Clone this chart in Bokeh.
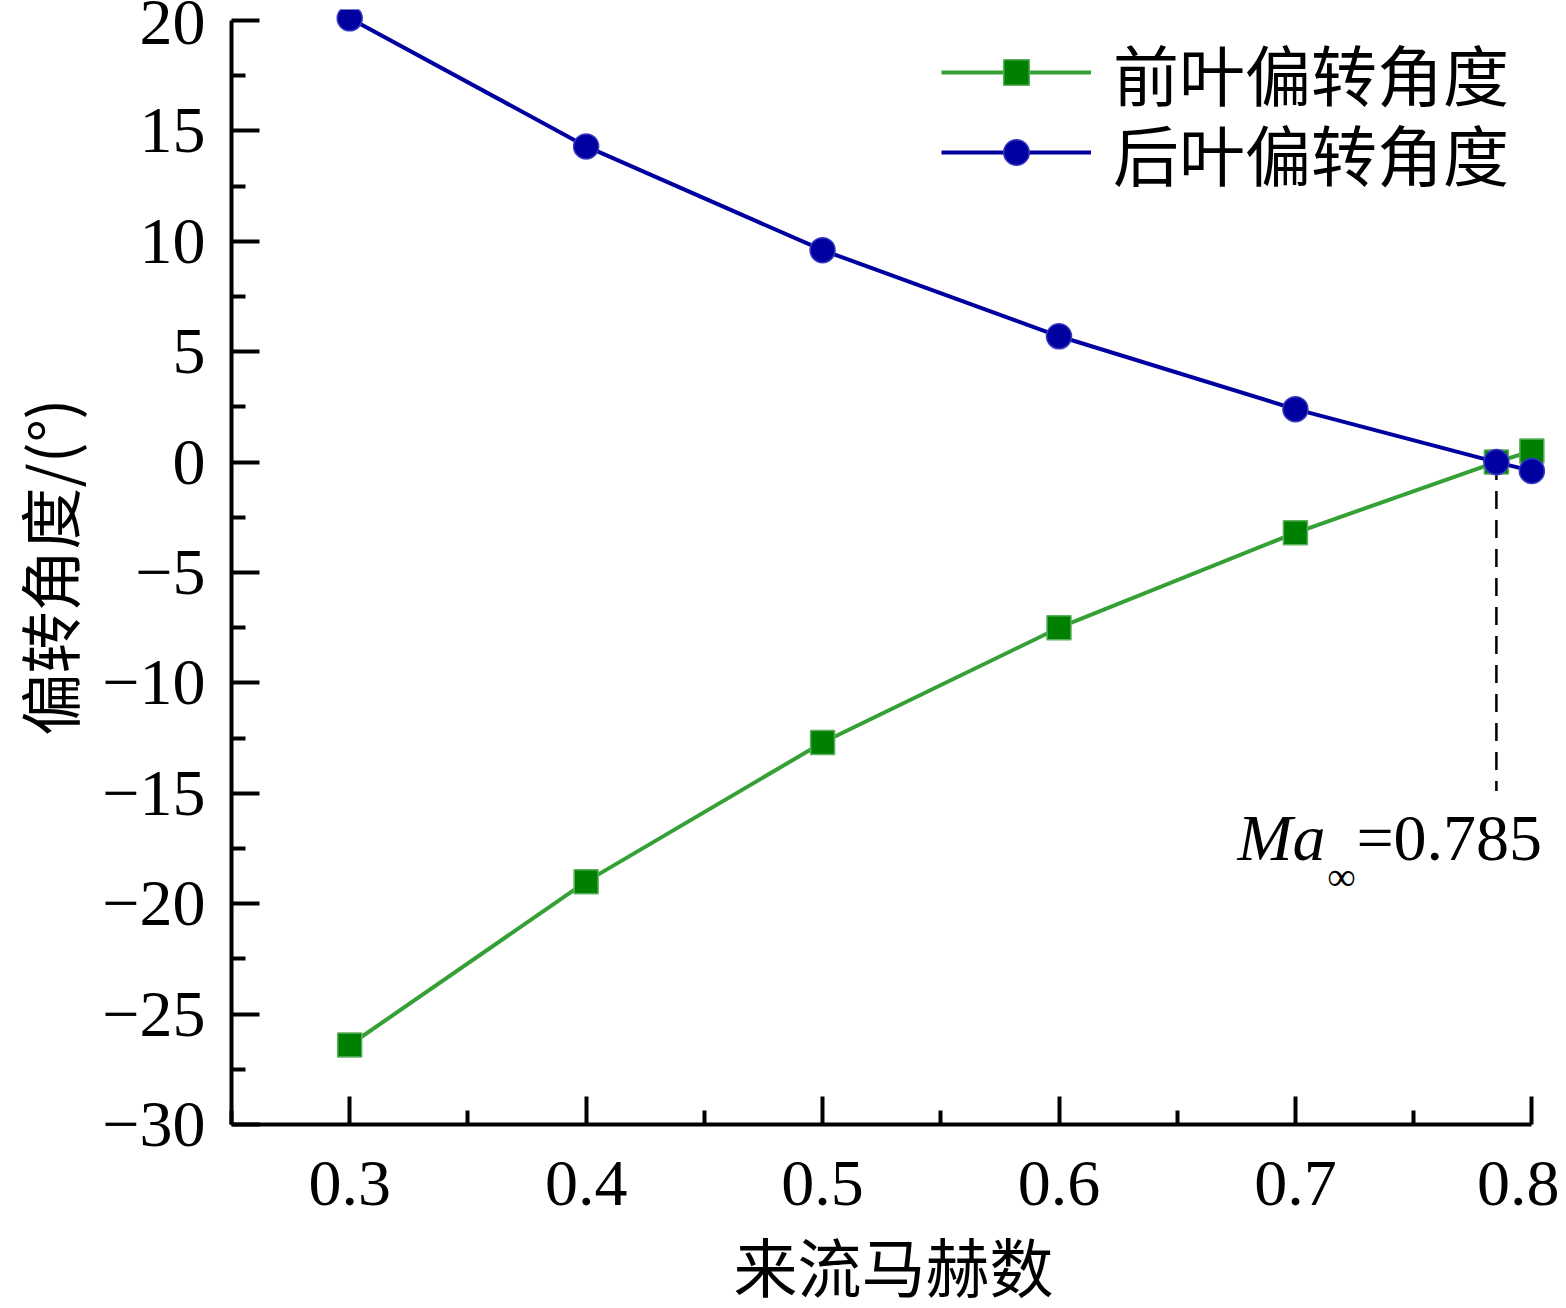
from bokeh.plotting import figure
from bokeh.models import (FixedTicker, CustomJSTickFormatter, Legend, LegendItem,
                          Label, Range1d)
from bokeh.embed import file_html
from bokeh.resources import INLINE

# ---------------- data ----------------
MACH = [0.3, 0.4, 0.5, 0.6, 0.7, 0.785, 0.8]
FRONT_DEFLECTION = [-26.4, -19.0, -12.7, -7.5, -3.2, 0.0, 0.5]
REAR_DEFLECTION = [20.1, 14.3, 9.6, 5.7, 2.4, 0.0, -0.4]
MA_CRIT = 0.785
DASH_Y = [0.0, -14.9]
SERIES_NAMES = ["前叶偏转角度", "后叶偏转角度"]
X_LABEL = "来流马赫数"
Y_LABEL = "偏转角度/(°)"
X_TICKS = [0.3, 0.4, 0.5, 0.6, 0.7, 0.8]
X_MINOR = [0.25, 0.35, 0.45, 0.55, 0.65, 0.75]
Y_TICKS = [-30, -25, -20, -15, -10, -5, 0, 5, 10, 15, 20]
Y_MINOR = [-27.5, -22.5, -17.5, -12.5, -7.5, -2.5, 2.5, 7.5, 12.5, 17.5]
ANNOT_MAIN = "=0.785"

GREEN_LINE = "#35a035"
GREEN_MARK = "#008000"
BLUE = "#0000a0"
SERIF = "Liberation Serif"
CJK = "Noto Sans CJK SC"

p = figure(frame_width=1324, frame_height=1115,
           min_border_left=222, min_border_right=4, min_border_top=9, min_border_bottom=180,
           x_range=Range1d(0.25, 0.81), y_range=Range1d(-30, 20.5),
           output_backend="svg", toolbar_location=None)
p.outline_line_color = None
p.xgrid.visible = False
p.ygrid.visible = False
p.background_fill_color = "white"
p.border_fill_color = "white"

# dashed critical-Mach line
p.line([MA_CRIT, MA_CRIT], DASH_Y, line_color="black", line_width=2.5, line_dash="18 11")

gl = p.line(MACH, FRONT_DEFLECTION, line_color=GREEN_LINE, line_width=4)
gm = p.scatter(MACH, FRONT_DEFLECTION, marker="square", size=24,
               fill_color=GREEN_MARK, line_color="#5cb05c", line_width=1.5)
bl = p.line(MACH, REAR_DEFLECTION, line_color=BLUE, line_width=4)
bm = p.scatter(MACH, REAR_DEFLECTION, marker="circle", size=25,
               fill_color=BLUE, line_color="#3a3ac0", line_width=1.5)

# axes
for ax in (p.xaxis[0], p.yaxis[0]):
    ax.axis_line_width = 4
    ax.axis_line_color = "black"
    ax.major_tick_line_width = 4
    ax.minor_tick_line_width = 4
    ax.major_tick_in = 28
    ax.major_tick_out = 0
    ax.minor_tick_in = 14
    ax.minor_tick_out = 0
    ax.major_label_text_font = SERIF
    ax.major_label_text_font_size = "66px"
    ax.major_label_text_color = "black"
    ax.axis_label_text_font = CJK
    ax.axis_label_text_font_style = "normal"
    ax.axis_label_text_color = "black"

p.xaxis[0].ticker = FixedTicker(ticks=X_TICKS, minor_ticks=X_MINOR)
p.yaxis[0].ticker = FixedTicker(ticks=Y_TICKS, minor_ticks=Y_MINOR)
p.xaxis[0].bounds = (0.25, 0.8)
p.yaxis[0].bounds = (-30, 20)
p.xaxis[0].formatter = CustomJSTickFormatter(code="return tick.toFixed(1);")
p.yaxis[0].formatter = CustomJSTickFormatter(
    code="return (tick < 0 ? '\\u2212' : '') + Math.abs(Math.round(tick)).toString();")
p.xaxis[0].major_label_standoff = 37
p.yaxis[0].major_label_standoff = 26
p.xaxis[0].axis_label = X_LABEL
p.yaxis[0].axis_label = Y_LABEL
p.xaxis[0].axis_label_text_font_size = "64px"
p.yaxis[0].axis_label_text_font_size = "62px"
p.xaxis[0].axis_label_standoff = 10
p.yaxis[0].axis_label_standoff = 6

# legends: one per series so the row spacing can match (bottom-left corner in frame px)
legend_style = dict(margin=0, padding=0, spacing=0,
                    glyph_width=150, glyph_height=64, label_standoff=22,
                    label_text_font=CJK, label_text_font_size="66px",
                    label_text_color="black",
                    border_line_color=None, background_fill_alpha=0)
legend_front = Legend(items=[LegendItem(label=SERIES_NAMES[0], renderers=[gl, gm])],
                      location=(710, 1004), **legend_style)
legend_rear = Legend(items=[LegendItem(label=SERIES_NAMES[1], renderers=[bl, bm])],
                     location=(710, 924), **legend_style)
p.add_layout(legend_front)
p.add_layout(legend_rear)

# annotation  Ma∞=0.785
p.add_layout(Label(x=MA_CRIT, y=DASH_Y[1], x_offset=-171, y_offset=-46,
                   text="Ma", text_align="right", text_baseline="alphabetic",
                   text_font=SERIF, text_font_style="italic", text_font_size="66px",
                   text_color="black"))
p.add_layout(Label(x=MA_CRIT, y=DASH_Y[1], x_offset=-155, y_offset=-85,
                   text="∞", text_align="center", text_baseline="alphabetic",
                   text_font=SERIF, text_font_size="40px", text_color="black"))
p.add_layout(Label(x=MA_CRIT, y=DASH_Y[1], x_offset=-140, y_offset=-46,
                   text=ANNOT_MAIN, text_align="left", text_baseline="alphabetic",
                   text_font=SERIF, text_font_size="66px", text_color="black"))

open("out.html", "w").write(file_html(p, INLINE))
